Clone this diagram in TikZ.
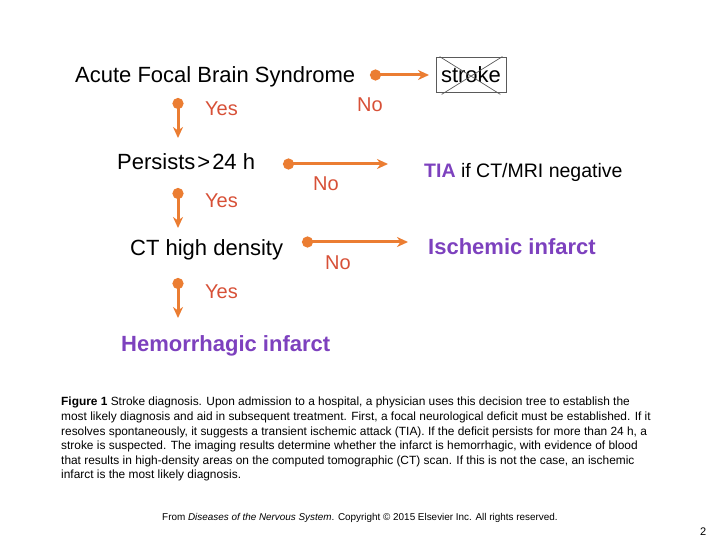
\documentclass[tikz,border=0pt]{standalone}
\usepackage{fontspec}
\setmainfont{Liberation Sans}
\usetikzlibrary{arrows.meta}
\definecolor{arrowor}{RGB}{235,125,50}
\definecolor{labred}{RGB}{215,80,55}
\definecolor{diagpur}{RGB}{125,65,190}
\definecolor{crossgray}{RGB}{90,90,90}
\tikzset{
  bigtext/.style={font=\fontsize{22bp}{26bp}\selectfont, inner sep=0pt, anchor=base west},
  outtext/.style={font=\fontsize{22bp}{26bp}\selectfont\bfseries, text=diagpur, inner sep=0pt, anchor=base west},
  anstext/.style={font=\fontsize{20bp}{24bp}\selectfont, text=labred, inner sep=0pt, anchor=base west},
  flow/.style={draw=arrowor, line width=3bp, {Circle[length=11bp,width=11bp]}-{Stealth[length=11bp,width=10bp,inset=3.5bp]}},
  captext/.style={font=\fontsize{11.9bp}{14.6bp}\selectfont, inner sep=0pt, anchor=north west, align=left},
}
\begin{document}
\begin{tikzpicture}[x=1bp,y=-1bp]
\useasboundingbox (0,0) rectangle (720,540);
% main texts
\node[bigtext] (acute) at (75,83) {Acute Focal Brain Syndrome};
\node[draw=crossgray, line width=0.8bp, font=\fontsize{22bp}{26bp}\selectfont, minimum width=70bp, minimum height=35bp, inner sep=0pt] (stroke) at (471,74.5) {stroke};
\draw[crossgray, line width=0.7bp] ([xshift=4bp]stroke.north west) -- ([xshift=-6bp,yshift=-2bp]stroke.south east);
\draw[crossgray, line width=0.7bp] ([xshift=6bp,yshift=-2bp]stroke.south west) -- ([xshift=-4bp]stroke.north east);
\node[anstext] (no1) at (357,112) {No};
\node[anstext] (yes1) at (205,116) {Yes};

\node[bigtext] (persist) at (117,170) {Persists\kern2bp>\kern2bp24 h};
\node[anstext] (no2) at (313,191) {No};
\node[bigtext, font=\fontsize{19.5bp}{24bp}\selectfont] (tia) at (424,178) {\textcolor{diagpur}{\bfseries TIA} if CT/MRI negative};
\node[anstext] (yes2) at (205,208) {Yes};

\node[bigtext] (ct) at (130,256) {CT high density};
\node[anstext] (no3) at (325,270) {No};
\node[outtext] (isch) at (428,255) {Ischemic infarct};
\node[anstext] (yes3) at (205,298) {Yes};

\node[outtext] (hem) at (121,351) {Hemorrhagic infarct};

% connectors
\coordinate (s1) at (370,75);  \coordinate (e1) at (429,75);
\coordinate (s2) at (178,98);  \coordinate (e2) at (178,138);
\coordinate (s3) at (283,164); \coordinate (e3) at (388,164);
\coordinate (s4) at (178,188); \coordinate (e4) at (178,228);
\coordinate (s5) at (302,242); \coordinate (e5) at (408,242);
\coordinate (s6) at (178,278); \coordinate (e6) at (178,318);
\draw[flow] (s1) -- (e1);
\draw[flow] (s2) -- (e2);
\draw[flow] (s3) -- (e3);
\draw[flow] (s4) -- (e4);
\draw[flow] (s5) -- (e5);
\draw[flow] (s6) -- (e6);

% caption
\node[captext] (cap) at (61,397) {\textbf{Figure 1} Stroke diagnosis. Upon admission to a hospital, a physician uses this decision tree to establish the\\
most likely diagnosis and aid in subsequent treatment. First, a focal neurological deficit must be established. If it\\
resolves spontaneously, it suggests a transient ischemic attack (TIA). If the deficit persists for more than 24 h, a\\
stroke is suspected. The imaging results determine whether the infarct is hemorrhagic, with evidence of blood\\
that results in high-density areas on the computed tomographic (CT) scan. If this is not the case, an ischemic\\
infarct is the most likely diagnosis.};
\node[font=\fontsize{9.9bp}{11bp}\selectfont, inner sep=0pt, anchor=base west] (src) at (162,520) {From \textit{Diseases of the Nervous System}. Copyright © 2015 Elsevier Inc. All rights reserved.};
\node[font=\fontsize{11bp}{13bp}\selectfont, inner sep=0pt, anchor=base west] (pg) at (700,535) {2};
\end{tikzpicture}
\end{document}
